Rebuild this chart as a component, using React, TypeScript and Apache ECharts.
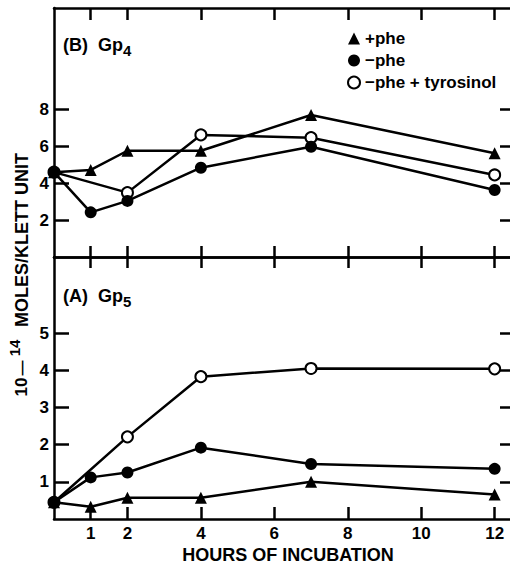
import React, { useEffect, useRef } from 'react';
import * as echarts from 'echarts';

const hours = [0, 1, 2, 4, 7, 12];
const hoursTyrosinol = [0, 2, 4, 7, 12];
const xTicks = [1, 2, 4, 6, 8, 10, 12];
const gp4Ticks = [2, 4, 6, 8];
const gp5Ticks = [1, 2, 3, 4, 5];
const seriesNames = ['+phe', '−phe', '−phe + tyrosinol'];
const gp4PlusPhe = [4.6, 4.72, 5.76, 5.76, 7.7, 5.62];
const gp4MinusPhe = [4.6, 2.42, 3.04, 4.84, 5.98, 3.63];
const gp4Tyrosinol = [4.6, 3.49, 6.62, 6.47, 4.45];
const gp5PlusPhe = [0.45, 0.33, 0.57, 0.57, 1.0, 0.66];
const gp5MinusPhe = [0.45, 1.12, 1.25, 1.92, 1.48, 1.35];
const gp5Tyrosinol = [0.45, 2.21, 3.83, 4.05, 4.04];

const FONT = '"Liberation Sans", Arial, Helvetica, sans-serif';
const BLACK = '#000';

const pairs = (xs: number[], ys: number[]) => xs.map((x, i) => [x, ys[i]]);

function xAxis(gridIndex: number, position: string, tickLen: number, showLabel: boolean) {
  return {
    type: 'value',
    gridIndex,
    position,
    min: 0,
    max: 12.5,
    axisLine: { show: true, onZero: false, lineStyle: { color: BLACK, width: 2.5 } },
    axisTick: { show: true, inside: true, length: tickLen, customValues: xTicks, lineStyle: { color: BLACK, width: 2.5 } },
    axisLabel: {
      show: showLabel,
      customValues: xTicks,
      color: BLACK,
      fontFamily: FONT,
      fontWeight: 'bold',
      fontSize: 17,
      margin: 6,
    },
    splitLine: { show: false },
  };
}

function yAxis(gridIndex: number, position: string, max: number, ticks: number[], tickLen: number, showLabel: boolean) {
  return {
    type: 'value',
    gridIndex,
    position,
    min: 0,
    max,
    axisLine: { show: true, onZero: false, lineStyle: { color: BLACK, width: 2.5 } },
    axisTick: { show: true, inside: true, length: tickLen, customValues: ticks, lineStyle: { color: BLACK, width: 2.5 } },
    axisLabel: {
      show: showLabel,
      customValues: ticks,
      color: BLACK,
      fontFamily: FONT,
      fontWeight: 'bold',
      fontSize: 17,
      margin: 5,
    },
    splitLine: { show: false },
  };
}

function lineSeries(name: string, xIdx: number, yIdx: number, data: number[][], kind: string) {
  const symbol = kind === 'tri' ? 'triangle' : 'circle';
  const itemStyle =
    kind === 'open'
      ? { color: '#fff', borderColor: BLACK, borderWidth: 2 }
      : { color: BLACK, borderWidth: 0 };
  return {
    type: 'line',
    name,
    xAxisIndex: xIdx,
    yAxisIndex: yIdx,
    data,
    symbol,
    symbolSize: kind === 'tri' ? 12 : kind === 'open' ? 11 : 12,
    showAllSymbol: true,
    lineStyle: { color: BLACK, width: 2.5 },
    itemStyle,
    emphasis: { disabled: true },
    silent: true,
  };
}

function rotText(text: string, x: number, y: number, size: number) {
  return {
    type: 'text',
    x,
    y,
    rotation: Math.PI / 2,
    style: {
      text,
      x: 0,
      y: 0,
      fill: BLACK,
      font: `bold ${size}px ${FONT}`,
      textAlign: 'center',
      textVerticalAlign: 'middle',
    },
  };
}

function plainText(text: string, x: number, y: number, size: number) {
  return {
    type: 'text',
    x,
    y,
    style: {
      text,
      x: 0,
      y: 0,
      fill: BLACK,
      font: `bold ${size}px ${FONT}`,
      textAlign: 'left',
      textVerticalAlign: 'middle',
    },
  };
}

export default function App() {
  const ref = useRef<HTMLDivElement>(null);
  useEffect(() => {
    if (!ref.current) return;
    const chart = echarts.init(ref.current, undefined, { renderer: 'svg' });
    chart.setOption({
      animation: false,
      backgroundColor: '#fff',
      grid: [
        { left: 54, right: 7, top: 8, height: 249, containLabel: false, outerBoundsMode: 'none' },
        { left: 54, right: 7, top: 257, height: 262, containLabel: false, outerBoundsMode: 'none' },
      ],
      xAxis: [
        xAxis(0, 'bottom', 11, false),
        xAxis(0, 'top', 12, false),
        xAxis(1, 'bottom', 12, true),
        xAxis(1, 'top', 11, false),
      ],
      yAxis: [
        yAxis(0, 'left', 13.5, gp4Ticks, 15, true),
        yAxis(0, 'right', 13.5, gp4Ticks, 13, false),
        yAxis(1, 'left', 7.05, gp5Ticks, 15, true),
        yAxis(1, 'right', 7.05, gp5Ticks, 13, false),
      ],
      legend: {
        orient: 'vertical',
        left: 347,
        top: 30,
        itemWidth: 12,
        itemHeight: 12,
        itemGap: 5,
        padding: 0,
        selectedMode: false,
        textStyle: { color: BLACK, fontFamily: FONT, fontWeight: 'bold', fontSize: 17 },
        data: [
          { name: seriesNames[0], icon: 'triangle', itemStyle: { color: BLACK, borderWidth: 0 } },
          { name: seriesNames[1], icon: 'circle', itemStyle: { color: BLACK, borderWidth: 0 } },
          { name: seriesNames[2], icon: 'circle', itemStyle: { color: '#fff', borderColor: BLACK, borderWidth: 2 } },
        ],
      },
      series: [
        lineSeries(seriesNames[2], 0, 0, pairs(hoursTyrosinol, gp4Tyrosinol), 'open'),
        lineSeries(seriesNames[0], 0, 0, pairs(hours, gp4PlusPhe), 'tri'),
        lineSeries(seriesNames[1], 0, 0, pairs(hours, gp4MinusPhe), 'fill'),
        lineSeries(seriesNames[2], 2, 2, pairs(hoursTyrosinol, gp5Tyrosinol), 'open'),
        lineSeries(seriesNames[0], 2, 2, pairs(hours, gp5PlusPhe), 'tri'),
        lineSeries(seriesNames[1], 2, 2, pairs(hours, gp5MinusPhe), 'fill'),
      ],
      graphic: [
        plainText('(B)  Gp', 63, 45, 18),
        plainText('4', 123, 50, 15),
        plainText('(A)  Gp', 63, 296, 18),
        plainText('5', 123, 301, 15),
        rotText('MOLES/KLETT UNIT', 22, 240, 18),
        rotText('10', 21, 387, 17),
        rotText('—', 21, 368, 15),
        rotText('14', 14, 348, 15),
        {
          type: 'text',
          x: 288,
          y: 555,
          style: {
            text: 'HOURS OF INCUBATION',
            x: 0,
            y: 0,
            fill: BLACK,
            font: `bold 18px ${FONT}`,
            textAlign: 'center',
            textVerticalAlign: 'middle',
          },
        },
      ],
    });
    return () => chart.dispose();
  }, []);
  return (
    <div style={{ position: 'fixed', left: 0, top: 0, width: 510, height: 568, overflow: 'hidden', background: '#fff' }}>
      <div ref={ref} style={{ width: 520, height: 568 }} />
    </div>
  );
}
